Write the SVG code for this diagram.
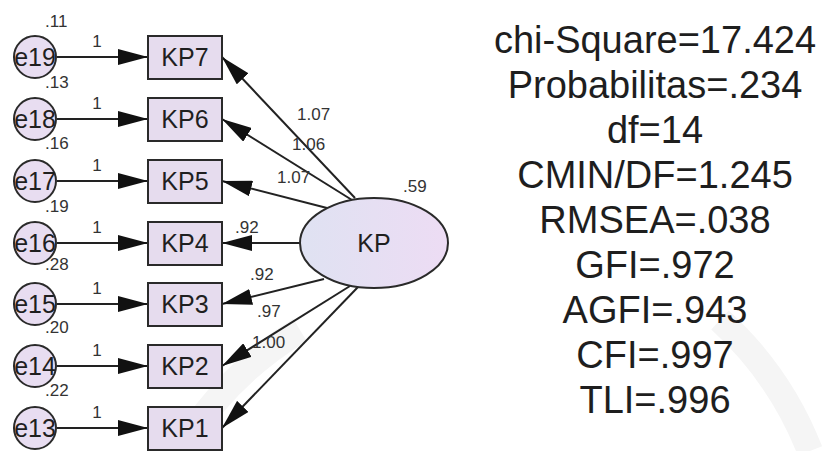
<svg xmlns="http://www.w3.org/2000/svg" width="825" height="451" viewBox="0 0 825 451">
<defs>
<style>
.err{fill:#e8ddf1;stroke:#2a2a2a;stroke-width:2}
.box{fill:#e6dcee;stroke:#2a2a2a;stroke-width:2}
.lbl{font-family:"Liberation Sans",Arial,sans-serif;fill:#1f1f1f}
.big{font-size:25px}
.sm{font-size:17px;fill:#333}
.stat{font-family:"Liberation Sans",Arial,sans-serif;font-size:38px;fill:#1e1e1e;text-anchor:middle}
.c{stroke:#222;stroke-width:2;fill:none;marker-end:url(#ah)}
</style>
<marker id="ah" markerUnits="userSpaceOnUse" markerWidth="30" markerHeight="16" refX="30" refY="8" orient="auto">
<path d="M0,0 L30,8 L0,16 z" fill="#111"/>
</marker>
<linearGradient id="kpg" x1="0" y1="0" x2="1" y2="0">
<stop offset="0" stop-color="#dfe2f2"/>
<stop offset="1" stop-color="#eddcf4"/>
</linearGradient>
</defs>
<rect width="825" height="451" fill="#ffffff"/>
<path d="M180,451 A350,350 0 0 1 300,330" fill="none" stroke="#f5f5f5" stroke-width="26"/>
<path d="M720,320 A350,350 0 0 1 810,451" fill="none" stroke="#f5f5f5" stroke-width="26"/>
<g id="connectors">
<line class="c" x1="57" y1="57" x2="148" y2="57"/>
<line class="c" x1="57" y1="119" x2="148" y2="119"/>
<line class="c" x1="57" y1="181" x2="148" y2="181"/>
<line class="c" x1="57" y1="243" x2="148" y2="243"/>
<line class="c" x1="57" y1="304" x2="148" y2="304"/>
<line class="c" x1="57" y1="366" x2="148" y2="366"/>
<line class="c" x1="57" y1="428" x2="148" y2="428"/>
<line class="c" x1="355" y1="198" x2="222" y2="57"/>
<line class="c" x1="352" y1="200" x2="222" y2="119"/>
<line class="c" x1="327" y1="208" x2="222" y2="181"/>
<line class="c" x1="300" y1="243" x2="222" y2="243"/>
<line class="c" x1="324" y1="279" x2="222" y2="304"/>
<line class="c" x1="350" y1="286" x2="222" y2="366"/>
<line class="c" x1="358" y1="287" x2="222" y2="428"/>
<g class="lbl sm" text-anchor="middle">
<text x="97" y="47">1</text>
<text x="97" y="109">1</text>
<text x="97" y="171">1</text>
<text x="97" y="233">1</text>
<text x="97" y="294">1</text>
<text x="97" y="356">1</text>
<text x="97" y="418">1</text>
</g>
<g class="lbl sm">
<text x="297" y="120">1.07</text>
<text x="292" y="150">1.06</text>
<text x="277" y="183">1.07</text>
<text x="235" y="233">.92</text>
<text x="250" y="280">.92</text>
<text x="257" y="317">.97</text>
<text x="252" y="348">1.00</text>
</g>
</g>
<g id="e19"><circle class="err" cx="35" cy="57" r="21"/><text class="lbl big" x="35" y="66" text-anchor="middle">e19</text><text class="lbl sm" x="45" y="27">.11</text></g>
<g id="e18"><circle class="err" cx="35" cy="119" r="21"/><text class="lbl big" x="35" y="128" text-anchor="middle">e18</text><text class="lbl sm" x="45" y="88">.13</text></g>
<g id="e17"><circle class="err" cx="35" cy="181" r="21"/><text class="lbl big" x="35" y="190" text-anchor="middle">e17</text><text class="lbl sm" x="45" y="149">.16</text></g>
<g id="e16"><circle class="err" cx="35" cy="243" r="21"/><text class="lbl big" x="35" y="252" text-anchor="middle">e16</text><text class="lbl sm" x="45" y="212">.19</text></g>
<g id="e15"><circle class="err" cx="35" cy="304" r="21"/><text class="lbl big" x="35" y="313" text-anchor="middle">e15</text><text class="lbl sm" x="45" y="270">.28</text></g>
<g id="e14"><circle class="err" cx="35" cy="366" r="21"/><text class="lbl big" x="35" y="375" text-anchor="middle">e14</text><text class="lbl sm" x="45" y="333">.20</text></g>
<g id="e13"><circle class="err" cx="35" cy="428" r="21"/><text class="lbl big" x="35" y="437" text-anchor="middle">e13</text><text class="lbl sm" x="45" y="396">.22</text></g>
<g id="KP7"><rect class="box" x="148" y="36" width="74" height="43"/><text class="lbl big" x="185" y="66" text-anchor="middle">KP7</text></g>
<g id="KP6"><rect class="box" x="148" y="98" width="74" height="43"/><text class="lbl big" x="185" y="128" text-anchor="middle">KP6</text></g>
<g id="KP5"><rect class="box" x="148" y="160" width="74" height="43"/><text class="lbl big" x="185" y="190" text-anchor="middle">KP5</text></g>
<g id="KP4"><rect class="box" x="148" y="222" width="74" height="43"/><text class="lbl big" x="185" y="252" text-anchor="middle">KP4</text></g>
<g id="KP3"><rect class="box" x="148" y="283" width="74" height="43"/><text class="lbl big" x="185" y="313" text-anchor="middle">KP3</text></g>
<g id="KP2"><rect class="box" x="148" y="345" width="74" height="43"/><text class="lbl big" x="185" y="375" text-anchor="middle">KP2</text></g>
<g id="KP1"><rect class="box" x="148" y="407" width="74" height="43"/><text class="lbl big" x="185" y="437" text-anchor="middle">KP1</text></g>
<g id="KP"><ellipse cx="374" cy="243" rx="74" ry="45" fill="url(#kpg)" stroke="#2a2a2a" stroke-width="2"/><text class="lbl big" x="374" y="252" text-anchor="middle">KP</text><text class="lbl sm" x="403" y="192">.59</text></g>
<g id="stats">
<text class="stat" x="655" y="53">chi-Square=17.424</text>
<text class="stat" x="655" y="98">Probabilitas=.234</text>
<text class="stat" x="655" y="143">df=14</text>
<text class="stat" x="655" y="188">CMIN/DF=1.245</text>
<text class="stat" x="655" y="233">RMSEA=.038</text>
<text class="stat" x="655" y="278">GFI=.972</text>
<text class="stat" x="655" y="323">AGFI=.943</text>
<text class="stat" x="655" y="368">CFI=.997</text>
<text class="stat" x="655" y="413">TLI=.996</text>
</g>
</svg>
